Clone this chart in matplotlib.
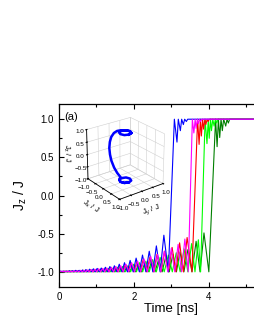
import numpy as np
import matplotlib
matplotlib.use("Agg")
import matplotlib.pyplot as plt

plt.rcParams['font.family'] = ['Liberation Sans', 'DejaVu Sans']

# peak positions (ns) and peak values of Jz/J before the switch, per curve
blue_pk_t = [0.04, 0.12, 0.20, 0.28, 0.36, 0.45, 0.54, 0.63, 0.72, 0.82, 0.92, 1.02,
             1.13, 1.24, 1.36, 1.48, 1.61, 1.75, 1.90, 2.06, 2.23, 2.41, 2.60, 2.80]
blue_pk_v = [-0.99, -0.99, -0.99, -0.985, -0.985, -0.98, -0.98, -0.975, -0.97, -0.965, -0.96, -0.955,
             -0.95, -0.94, -0.93, -0.92, -0.90, -0.88, -0.85, -0.82, -0.78, -0.73, -0.66, -0.52]
mag_pk_t = [0.08, 0.16, 0.24, 0.32, 0.40, 0.49, 0.58, 0.67, 0.76, 0.86, 0.96, 1.06, 1.17, 1.28,
            1.40, 1.52, 1.65, 1.79, 1.94, 2.10, 2.27, 2.45, 2.63, 2.81, 3.00, 3.18, 3.36]
mag_pk_v = [-0.99, -0.99, -0.99, -0.99, -0.985, -0.985, -0.98, -0.98, -0.975, -0.97, -0.965, -0.96, -0.955, -0.95,
            -0.94, -0.93, -0.92, -0.90, -0.88, -0.86, -0.83, -0.80, -0.77, -0.73, -0.69, -0.64, -0.57]
red_pk_t = [0.06, 0.14, 0.22, 0.30, 0.38, 0.47, 0.56, 0.65, 0.74, 0.84, 0.94, 1.04, 1.15, 1.26,
            1.38, 1.50, 1.63, 1.77, 1.92, 2.08, 2.25, 2.43, 2.62, 2.82, 3.02, 3.22, 3.42]
red_pk_v = [-0.995, -0.99, -0.99, -0.99, -0.99, -0.985, -0.985, -0.98, -0.98, -0.975, -0.97, -0.965, -0.96, -0.955,
            -0.95, -0.94, -0.93, -0.91, -0.89, -0.87, -0.84, -0.81, -0.77, -0.73, -0.68, -0.62, -0.55]
lime_pk_t = [0.02, 0.10, 0.18, 0.26, 0.34, 0.43, 0.52, 0.61, 0.70, 0.79, 0.89, 0.99, 1.10, 1.21,
             1.33, 1.45, 1.57, 1.70, 1.84, 1.99, 2.15, 2.32, 2.50, 2.70, 2.92, 3.13, 3.34, 3.54, 3.72]
lime_pk_v = [-0.995, -0.995, -0.99, -0.99, -0.99, -0.99, -0.985, -0.985, -0.98, -0.98, -0.975, -0.97, -0.965, -0.96,
             -0.955, -0.95, -0.94, -0.93, -0.92, -0.90, -0.88, -0.86, -0.84, -0.81, -0.78, -0.75, -0.70, -0.63, -0.58]
dkg_pk_t = [0.10, 0.18, 0.26, 0.34, 0.42, 0.51, 0.60, 0.69, 0.78, 0.88, 0.98, 1.08, 1.19, 1.30,
            1.42, 1.54, 1.67, 1.81, 1.96, 2.12, 2.29, 2.47, 2.66, 2.85, 3.04, 3.23, 3.44, 3.66, 3.87]
dkg_pk_v = [-0.995, -0.995, -0.995, -0.99, -0.99, -0.99, -0.99, -0.985, -0.985, -0.98, -0.98, -0.975, -0.97, -0.965,
            -0.96, -0.955, -0.95, -0.94, -0.93, -0.91, -0.89, -0.87, -0.84, -0.80, -0.77, -0.74, -0.71, -0.60, -0.49]

# switching: last time at -1 and first time at +1
switch_low = [2.92, 3.45, 3.55, 3.78, 4.00]
switch_top = [3.08, 3.56, 3.70, 3.90, 4.18]

# ringing dips after the switch
blue_dip_t = [3.15, 3.24, 3.32, 3.40]
blue_dip_v = [0.70, 0.85, 0.93, 0.97]
mag_dip_t = [3.60, 3.66, 3.72, 3.78]
mag_dip_v = [0.82, 0.88, 0.94, 0.97]
red_dip_t = [3.74, 3.80, 3.86, 3.92, 3.98]
red_dip_v = [0.67, 0.78, 0.87, 0.93, 0.97]
lime_dip_t = [3.95, 4.01, 4.07, 4.14, 4.21]
lime_dip_v = [0.68, 0.75, 0.85, 0.91, 0.95]
dkg_dip_t = [4.22, 4.29, 4.36, 4.45, 4.52]
dkg_dip_v = [0.64, 0.76, 0.85, 0.91, 0.95]

# inset trajectory (Jx, Jy, Jz) / J : loops near the north pole, arc, loops near the south pole
traj_x = [0.22, 0.16, 0.0, -0.16, -0.22, -0.16, 0.0, 0.16, 0.22, 0.16, 0.0, -0.16, -0.30,
          -0.50, -0.70, -0.87, -0.96, -1.0, -0.96, -0.87, -0.70, -0.50, -0.30,
          -0.16, 0.0, 0.16, 0.22, 0.16, 0.0, -0.16, -0.22, -0.16, 0.0, 0.16, 0.22]
traj_y = [0.0, 0.16, 0.22, 0.16, 0.0, -0.16, -0.22, -0.16, 0.0, 0.16, 0.22, 0.16, 0.0,
          0.0, 0.0, 0.0, 0.0, 0.0, 0.0, 0.0, 0.0, 0.0, 0.0,
          -0.16, -0.22, -0.16, 0.0, 0.16, 0.22, 0.16, 0.0, -0.16, -0.22, -0.16, 0.0]
traj_z = [0.96, 0.96, 0.96, 0.96, 0.96, 0.96, 0.96, 0.96, 0.96, 0.96, 0.96, 0.96, 0.95,
          0.86, 0.71, 0.49, 0.26, 0.0, -0.26, -0.49, -0.71, -0.86, -0.95,
          -0.96, -0.96, -0.96, -0.96, -0.96, -0.96, -0.96, -0.96, -0.96, -0.96, -0.96, -0.96]

T_END = 6.0


def build_curve(pk_t, pk_v, t_low, t_top, dip_t, dip_v):
    t = [0.0]
    v = [-1.0]
    for i, (pt, pv) in enumerate(zip(pk_t, pk_v)):
        if i > 0:
            t.append((pk_t[i - 1] + pt) / 2)
            v.append(-1.0)
        t.append(pt)
        v.append(pv)
    t += [t_low, t_top]
    v += [-1.0, 1.0]
    for dt, dv in zip(dip_t, dip_v):
        t += [dt, dt + 0.035]
        v += [dv, 1.0]
    t.append(T_END)
    v.append(1.0)
    return t, v


curves = [
    (dkg_pk_t, dkg_pk_v, switch_low[4], switch_top[4], dkg_dip_t, dkg_dip_v, '#008000'),
    (lime_pk_t, lime_pk_v, switch_low[3], switch_top[3], lime_dip_t, lime_dip_v, '#00ff00'),
    (red_pk_t, red_pk_v, switch_low[2], switch_top[2], red_dip_t, red_dip_v, '#ff0000'),
    (blue_pk_t, blue_pk_v, switch_low[0], switch_top[0], blue_dip_t, blue_dip_v, '#0000ff'),
    (mag_pk_t, mag_pk_v, switch_low[1], switch_top[1], mag_dip_t, mag_dip_v, '#ff00ff'),
]

fig = plt.figure(figsize=(2.55, 3.30), dpi=100)
ax = fig.add_axes([0.231, 0.130, 0.882, 0.555])

for pk_t, pk_v, tl, tt, dt, dv, col in curves:
    t, v = build_curve(pk_t, pk_v, tl, tt, dt, dv)
    ax.plot(t, v, color=col, lw=0.8)

ax.set_xlim(0, T_END)
ax.set_ylim(-1.2, 1.2)
ax.set_xticks([0, 2, 4])
ax.set_xticks([1, 3, 5], minor=True)
ax.set_yticks([-1.0, -0.5, 0.0, 0.5, 1.0])
ax.set_yticks([-0.75, -0.25, 0.25, 0.75], minor=True)
ax.set_yticklabels(['-1.0', '-0.5', '0.0', '0.5', '1.0'])
ax.tick_params(which='both', direction='in', top=True, labelsize=7, width=0.8)
ax.tick_params(which='major', length=3.5)
ax.tick_params(which='minor', length=2)
for s in ax.spines.values():
    s.set_linewidth(0.9)
ax.set_xlabel('Time [ns]', fontsize=9.5, labelpad=1)
ax.set_ylabel('J$_\\mathregular{z}$ / J', fontsize=10, labelpad=6)
ax.text(0.025, 0.955, '(a)', transform=ax.transAxes, fontsize=8, va='top')

# 3D inset
ax3 = fig.add_axes([0.26, 0.335, 0.45, 0.37], projection='3d')
ax3.plot(traj_x, traj_y, traj_z, color='#0000ff', lw=1.8)
ax3.set_xlim(-1, 1)
ax3.set_ylim(-1, 1)
ax3.set_zlim(-1, 1)
ticks3 = [-1.0, -0.5, 0.0, 0.5, 1.0]
ax3.set_xticks(ticks3)
ax3.set_yticks(ticks3)
ax3.set_zticks(ticks3)
ax3.view_init(elev=25, azim=-37)
ax3.set_box_aspect((1, 1, 1.0), zoom=0.8)
for a in (ax3.xaxis, ax3.yaxis, ax3.zaxis):
    a.set_pane_color((1, 1, 1, 0))
    a._axinfo['grid']['color'] = '#d0d0d0'
    a._axinfo['grid']['linewidth'] = 0.4
    a.line.set_linewidth(0.6)
ax3.zaxis.set_ticks_position('lower')
ax3.zaxis.set_label_position('lower')
ax3.tick_params(labelsize=4.5, pad=-4)
ax3.set_xlabel('J$_\\mathregular{x}$ / J', fontsize=5.5, labelpad=-9)
ax3.set_ylabel('J$_\\mathregular{y}$ / J', fontsize=5.5, labelpad=-9)
ax3.set_zlabel('J$_\\mathregular{z}$ / J', fontsize=5.5, labelpad=-9)
ax3.patch.set_alpha(0)

fig.savefig('out.png', dpi=100)
